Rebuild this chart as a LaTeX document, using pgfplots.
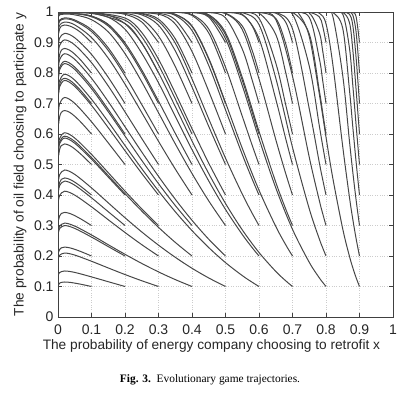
\documentclass[border=0pt]{standalone}
\usepackage{pgfplots}
\pgfplotsset{compat=1.18}
\usepackage{fontspec}
\setmainfont{Liberation Sans}
\newfontfamily\capfont{Liberation Serif}
\tikzset{tr/.style={black!72, line width=1pt, smooth, tension=0.55, mark=none}}
\begin{document}
\begin{tikzpicture}
\path[use as bounding box] (-58pt,-75pt) rectangle (350pt,317pt);
\begin{axis}[
  at={(0,0)}, anchor=south west,
  scale only axis, width=335pt, height=305pt,
  xmin=0, xmax=1, ymin=0, ymax=1,
  xtick={0,0.1,0.2,0.3,0.4,0.5,0.6,0.7,0.8,0.9,1},
  ytick={0,0.1,0.2,0.3,0.4,0.5,0.6,0.7,0.8,0.9,1},
  /pgf/number format/assume math mode=true,
  tick label style={font=\fontsize{14}{16}\selectfont, black!85},
  xticklabel style={yshift=-4pt},
  yticklabel style={xshift=-1pt},
  grid=major, major grid style={dotted, black!20, line width=0.6pt},
  tick align=inside, major tick length=4pt,
  tick style={black!75, line width=0.6pt},
  axis line style={black!75, line width=0.8pt},
  xlabel={The probability of energy company choosing to retrofit x},
  ylabel={The probability of oil field choosing to participate y},
  label style={font=\fontsize{13.7}{16}\selectfont, black!85},
  xlabel style={at={(axis description cs:0.458,-0.095)}, anchor=center},
  ylabel style={at={(axis description cs:-0.113,0.5)}, anchor=center},
  clip=true,
]
% column x0=0.1
\addplot[tr] coordinates {(0.1,0.1)(0.07,0.107)(0.05,0.1111)(0.035,0.1136)(0.02,0.1148)(0.01,0.1136)(0.005,0.1109)(0.002,0.1064)};
\addplot[tr] coordinates {(0.1,0.2)(0.07,0.2138)(0.05,0.2219)(0.035,0.2268)(0.02,0.2292)(0.01,0.2268)(0.005,0.2215)(0.002,0.2127)};
\addplot[tr] coordinates {(0.1,0.3)(0.07,0.3203)(0.05,0.3323)(0.035,0.3395)(0.02,0.3430)(0.01,0.3395)(0.005,0.3317)(0.002,0.3187)};
\addplot[tr] coordinates {(0.1,0.4)(0.07,0.4265)(0.05,0.4421)(0.035,0.4514)(0.02,0.4559)(0.01,0.4514)(0.005,0.4413)(0.002,0.4243)};
\addplot[tr] coordinates {(0.1,0.5)(0.07,0.5321)(0.05,0.5509)(0.035,0.5621)(0.02,0.5675)(0.01,0.5621)(0.005,0.55)(0.002,0.5295)};
\addplot[tr] coordinates {(0.1,0.6)(0.07,0.6368)(0.05,0.6582)(0.035,0.6709)(0.02,0.677)(0.01,0.6709)(0.005,0.6571)(0.002,0.6338)};
\addplot[tr] coordinates {(0.1,0.7)(0.07,0.7398)(0.05,0.7628)(0.035,0.7762)(0.02,0.7827)(0.01,0.7762)(0.005,0.7616)(0.002,0.7367)};
\addplot[tr] coordinates {(0.1,0.8)(0.07,0.8397)(0.05,0.8618)(0.035,0.8745)(0.02,0.8806)(0.01,0.8745)(0.005,0.8607)(0.002,0.8366)};
\addplot[tr] coordinates {(0.1,0.9)(0.07,0.9312)(0.05,0.9463)(0.035,0.954)(0.02,0.9575)(0.01,0.954)(0.005,0.9456)(0.002,0.929)};
% column x0=0.2
\addplot[tr] coordinates {(0.2,0.1)(0.15,0.1157)(0.1,0.1315)(0.05,0.1462)(0.02,0.1509)(0.005,0.1459)(0.002,0.1399)};
\addplot[tr] coordinates {(0.2,0.2)(0.15,0.2309)(0.1,0.262)(0.05,0.2905)(0.02,0.2998)(0.005,0.29)(0.002,0.2784)};
\addplot[tr] coordinates {(0.2,0.3)(0.15,0.3452)(0.1,0.3909)(0.05,0.4321)(0.02,0.4456)(0.005,0.4313)(0.002,0.4147)};
\addplot[tr] coordinates {(0.2,0.4)(0.15,0.4588)(0.1,0.5174)(0.05,0.5697)(0.02,0.5867)(0.005,0.5687)(0.002,0.5476)};
\addplot[tr] coordinates {(0.2,0.5)(0.15,0.5709)(0.1,0.6401)(0.05,0.7005)(0.02,0.7197)(0.005,0.6994)(0.002,0.6754)};
\addplot[tr] coordinates {(0.2,0.6)(0.15,0.6805)(0.1,0.7566)(0.05,0.8193)(0.02,0.8383)(0.005,0.8182)(0.002,0.7936)};
\addplot[tr] coordinates {(0.2,0.7)(0.15,0.7858)(0.1,0.861)(0.05,0.9155)(0.02,0.9301)(0.005,0.9146)(0.002,0.8941)};
\addplot[tr] coordinates {(0.2,0.8)(0.15,0.8824)(0.1,0.9423)(0.05,0.9739)(0.02,0.9807)(0.005,0.9735)(0.002,0.9631)};
\addplot[tr] coordinates {(0.2,0.9)(0.15,0.9595)(0.1,0.9867)(0.05,0.9954)(0.02,0.9965)(0.005,0.9953)(0.002,0.9926)};
% column x0=0.3
\addplot[tr] coordinates {(0.3,0.1)(0.25,0.1189)(0.2,0.1392)(0.15,0.1608)(0.1,0.1828)(0.05,0.203)(0.02,0.2098)(0.005,0.2026)(0.002,0.1944)};
\addplot[tr] coordinates {(0.3,0.2)(0.25,0.2372)(0.2,0.2771)(0.15,0.3189)(0.1,0.3613)(0.05,0.3997)(0.02,0.4125)(0.005,0.399)(0.002,0.3835)};
\addplot[tr] coordinates {(0.3,0.3)(0.25,0.3546)(0.2,0.4128)(0.15,0.4731)(0.1,0.5332)(0.05,0.5867)(0.02,0.6041)(0.005,0.5857)(0.002,0.5642)};
\addplot[tr] coordinates {(0.3,0.4)(0.25,0.4709)(0.2,0.5452)(0.15,0.6207)(0.1,0.6938)(0.05,0.7561)(0.02,0.7757)(0.005,0.755)(0.002,0.7303)};
\addplot[tr] coordinates {(0.3,0.5)(0.25,0.5853)(0.2,0.6725)(0.15,0.7575)(0.1,0.8339)(0.05,0.892)(0.02,0.9085)(0.005,0.891)(0.002,0.869)};
\addplot[tr] coordinates {(0.3,0.6)(0.25,0.6967)(0.2,0.7906)(0.15,0.8739)(0.1,0.9361)(0.05,0.9706)(0.02,0.9776)(0.005,0.9702)(0.002,0.9585)};
\addplot[tr] coordinates {(0.3,0.7)(0.25,0.8023)(0.2,0.8916)(0.15,0.9541)(0.1,0.9847)(0.05,0.9946)(0.02,0.996)(0.005,0.9945)(0.002,0.9914)};
\addplot[tr] coordinates {(0.3,0.8)(0.25,0.8985)(0.2,0.9617)(0.15,0.9895)(0.1,0.997)(0.05,0.999)(0.002,0.9985)};
\addplot[tr] coordinates {(0.3,0.9)(0.25,0.9673)(0.2,0.9924)(0.15,0.9984)(0.1,0.999)(0.002,0.999)};
% column x0=0.4
\addplot[tr] coordinates {(0.4,0.1)(0.35,0.1227)(0.3,0.1479)(0.25,0.1756)(0.2,0.2056)(0.15,0.237)(0.1,0.2691)(0.05,0.2981)(0.02,0.3079)(0.005,0.2976)(0.002,0.2859)};
\addplot[tr] coordinates {(0.4,0.2)(0.35,0.2447)(0.3,0.294)(0.25,0.3474)(0.2,0.4045)(0.15,0.4638)(0.1,0.5229)(0.05,0.5757)(0.02,0.5928)(0.005,0.5747)(0.002,0.5535)};
\addplot[tr] coordinates {(0.4,0.3)(0.35,0.3657)(0.3,0.4372)(0.25,0.5136)(0.2,0.5933)(0.15,0.6729)(0.1,0.7489)(0.05,0.8117)(0.02,0.8309)(0.005,0.8106)(0.002,0.786)};
\addplot[tr] coordinates {(0.4,0.4)(0.35,0.4853)(0.3,0.5761)(0.25,0.6704)(0.2,0.7635)(0.15,0.8486)(0.1,0.9163)(0.05,0.9578)(0.02,0.9672)(0.005,0.9572)(0.002,0.9426)};
\addplot[tr] coordinates {(0.4,0.5)(0.35,0.6022)(0.3,0.7078)(0.25,0.8102)(0.2,0.8985)(0.15,0.9585)(0.1,0.9863)(0.05,0.9953)(0.02,0.9964)(0.005,0.9952)(0.002,0.9924)};
\addplot[tr] coordinates {(0.4,0.6)(0.35,0.7153)(0.3,0.8265)(0.25,0.9186)(0.2,0.9732)(0.1,0.9983)(0.05,0.999)(0.002,0.999)};
\addplot[tr] coordinates {(0.4,0.7)(0.35,0.8211)(0.3,0.9212)(0.25,0.9775)(0.2,0.9953)(0.1,0.999)(0.002,0.999)};
\addplot[tr] coordinates {(0.4,0.8)(0.35,0.9123)(0.3,0.9766)(0.25,0.9956)(0.2,0.999)(0.1,0.999)(0.002,0.999)};
\addplot[tr] coordinates {(0.4,0.9)(0.35,0.9748)(0.3,0.9958)(0.2,0.999)(0.1,0.999)(0.002,0.999)};
% column x0=0.5
\addplot[tr] coordinates {(0.5,0.1)(0.45,0.128)(0.4,0.1598)(0.35,0.1958)(0.3,0.2356)(0.25,0.2789)(0.2,0.3255)(0.15,0.3743)(0.1,0.4233)(0.05,0.4676)(0.02,0.482)(0.005,0.4668)(0.002,0.4488)};
\addplot[tr] coordinates {(0.5,0.2)(0.45,0.2549)(0.4,0.3171)(0.35,0.3862)(0.3,0.4612)(0.25,0.5411)(0.2,0.6238)(0.15,0.7062)(0.1,0.7828)(0.05,0.8448)(0.02,0.8632)(0.005,0.8437)(0.002,0.82)};
\addplot[tr] coordinates {(0.5,0.3)(0.45,0.3806)(0.4,0.4705)(0.35,0.5678)(0.3,0.6698)(0.25,0.7712)(0.2,0.8636)(0.15,0.9348)(0.1,0.9749)(0.05,0.9907)(0.02,0.9931)(0.005,0.9906)(0.002,0.9859)};
\addplot[tr] coordinates {(0.5,0.4)(0.45,0.5043)(0.4,0.6175)(0.35,0.7345)(0.3,0.8452)(0.25,0.9328)(0.2,0.9802)(0.1,0.9988)(0.05,0.999)(0.002,0.999)};
\addplot[tr] coordinates {(0.5,0.5)(0.45,0.6248)(0.4,0.754)(0.35,0.8728)(0.3,0.9566)(0.25,0.9905)(0.2,0.9982)(0.1,0.999)(0.002,0.999)};
\addplot[tr] coordinates {(0.5,0.6)(0.45,0.74)(0.4,0.8706)(0.35,0.9607)(0.3,0.9926)(0.2,0.999)(0.1,0.999)(0.002,0.999)};
\addplot[tr] coordinates {(0.5,0.7)(0.45,0.8452)(0.4,0.9525)(0.35,0.9921)(0.3,0.999)(0.2,0.999)(0.002,0.999)};
\addplot[tr] coordinates {(0.5,0.8)(0.45,0.9312)(0.4,0.9888)(0.35,0.999)(0.3,0.999)(0.002,0.999)};
\addplot[tr] coordinates {(0.5,0.9)(0.45,0.9833)(0.4,0.9983)(0.35,0.999)(0.3,0.999)(0.002,0.999)};
% column x0=0.6
\addplot[tr] coordinates {(0.6,0.1)(0.58,0.1137)(0.55,0.1359)(0.5,0.1783)(0.45,0.2276)(0.4,0.2833)(0.35,0.3453)(0.3,0.4134)(0.25,0.4864)(0.2,0.5624)(0.15,0.64)(0.1,0.7139)(0.05,0.7766)(0.02,0.796)(0.005,0.7755)(0.002,0.7506)};
\addplot[tr] coordinates {(0.6,0.2)(0.58,0.2269)(0.55,0.2706)(0.5,0.3527)(0.45,0.446)(0.4,0.5488)(0.35,0.658)(0.3,0.7679)(0.25,0.865)(0.2,0.9435)(0.15,0.9829)(0.1,0.9951)(0.05,0.9984)(0.02,0.9989)(0.005,0.9983)(0.002,0.998)};
\addplot[tr] coordinates {(0.6,0.3)(0.58,0.3394)(0.55,0.4032)(0.5,0.521)(0.45,0.6495)(0.4,0.7805)(0.35,0.8981)(0.3,0.9695)(0.25,0.9939)(0.2,0.999)(0.1,0.999)(0.002,0.999)};
\addplot[tr] coordinates {(0.6,0.4)(0.58,0.4512)(0.55,0.5331)(0.5,0.6793)(0.45,0.8245)(0.4,0.9392)(0.35,0.9889)(0.3,0.9984)(0.2,0.999)(0.002,0.999)};
\addplot[tr] coordinates {(0.6,0.5)(0.58,0.5618)(0.55,0.6585)(0.5,0.8193)(0.45,0.9442)(0.4,0.9917)(0.35,0.999)(0.3,0.999)(0.002,0.999)};
\addplot[tr] coordinates {(0.6,0.6)(0.58,0.6704)(0.55,0.7761)(0.5,0.9255)(0.45,0.9899)(0.4,0.999)(0.3,0.999)(0.002,0.999)};
\addplot[tr] coordinates {(0.6,0.7)(0.58,0.7753)(0.55,0.8788)(0.5,0.9807)(0.45,0.9984)(0.4,0.999)(0.3,0.999)(0.002,0.999)};
\addplot[tr] coordinates {(0.6,0.8)(0.58,0.8729)(0.55,0.9544)(0.5,0.9962)(0.45,0.999)(0.4,0.999)(0.002,0.999)};
\addplot[tr] coordinates {(0.6,0.9)(0.58,0.9537)(0.55,0.9904)(0.5,0.999)(0.45,0.999)(0.002,0.999)};
% column x0=0.7
\addplot[tr] coordinates {(0.7,0.1)(0.68,0.1185)(0.65,0.1496)(0.6,0.2116)(0.55,0.2858)(0.5,0.3723)(0.45,0.4702)(0.4,0.5774)(0.35,0.6902)(0.3,0.8013)(0.25,0.8979)(0.2,0.9623)(0.1,0.997)(0.05,0.999)(0.002,0.9986)};
\addplot[tr] coordinates {(0.7,0.2)(0.68,0.2364)(0.65,0.2973)(0.6,0.4159)(0.55,0.5533)(0.5,0.703)(0.45,0.8481)(0.4,0.9543)(0.35,0.9924)(0.3,0.999)(0.2,0.999)(0.002,0.999)};
\addplot[tr] coordinates {(0.7,0.3)(0.68,0.3534)(0.65,0.442)(0.6,0.6088)(0.55,0.7858)(0.5,0.9325)(0.45,0.9912)(0.4,0.999)(0.3,0.999)(0.002,0.999)};
\addplot[tr] coordinates {(0.7,0.4)(0.68,0.4694)(0.65,0.5821)(0.6,0.7809)(0.55,0.9425)(0.5,0.995)(0.45,0.999)(0.4,0.999)(0.002,0.999)};
\addplot[tr] coordinates {(0.7,0.5)(0.68,0.5835)(0.65,0.7146)(0.6,0.9127)(0.55,0.9924)(0.5,0.999)(0.4,0.999)(0.002,0.999)};
\addplot[tr] coordinates {(0.7,0.6)(0.68,0.6946)(0.65,0.8332)(0.6,0.9795)(0.55,0.999)(0.5,0.999)(0.002,0.999)};
\addplot[tr] coordinates {(0.7,0.7)(0.68,0.8)(0.65,0.9264)(0.6,0.9963)(0.55,0.999)(0.5,0.999)(0.002,0.999)};
\addplot[tr] coordinates {(0.7,0.8)(0.68,0.8949)(0.65,0.9791)(0.6,0.999)(0.55,0.999)(0.002,0.999)};
\addplot[tr] coordinates {(0.7,0.9)(0.68,0.9663)(0.65,0.9963)(0.6,0.999)(0.55,0.999)(0.002,0.999)};
% column x0=0.8
\addplot[tr] coordinates {(0.8,0.1)(0.79,0.1138)(0.78,0.1285)(0.75,0.1794)(0.7,0.2874)(0.65,0.4238)(0.6,0.5851)(0.55,0.7592)(0.5,0.9127)(0.45,0.9865)(0.4,0.9985)(0.3,0.999)(0.002,0.999)};
\addplot[tr] coordinates {(0.8,0.2)(0.79,0.2271)(0.78,0.256)(0.75,0.3548)(0.7,0.5562)(0.65,0.7835)(0.6,0.9587)(0.55,0.9979)(0.5,0.999)(0.002,0.999)};
\addplot[tr] coordinates {(0.8,0.3)(0.79,0.3397)(0.78,0.3822)(0.75,0.5241)(0.7,0.7892)(0.65,0.9752)(0.6,0.999)(0.5,0.999)(0.002,0.999)};
\addplot[tr] coordinates {(0.8,0.4)(0.79,0.4517)(0.78,0.5063)(0.75,0.6829)(0.7,0.9448)(0.65,0.9988)(0.6,0.999)(0.002,0.999)};
\addplot[tr] coordinates {(0.8,0.5)(0.79,0.5621)(0.78,0.6272)(0.75,0.8229)(0.7,0.9928)(0.65,0.999)(0.6,0.999)(0.002,0.999)};
\addplot[tr] coordinates {(0.8,0.6)(0.79,0.671)(0.78,0.7426)(0.75,0.9282)(0.7,0.999)(0.65,0.999)(0.002,0.999)};
\addplot[tr] coordinates {(0.8,0.7)(0.79,0.776)(0.78,0.8477)(0.75,0.9825)(0.7,0.999)(0.65,0.999)(0.002,0.999)};
\addplot[tr] coordinates {(0.8,0.8)(0.79,0.8735)(0.78,0.9328)(0.75,0.9965)(0.7,0.999)(0.002,0.999)};
\addplot[tr] coordinates {(0.8,0.9)(0.79,0.954)(0.78,0.9839)(0.75,0.999)(0.7,0.999)(0.002,0.999)};
% column x0=0.9
\addplot[tr] coordinates {(0.9,0.1)(0.89,0.1286)(0.88,0.1616)(0.87,0.1992)(0.85,0.2886)(0.82,0.4573)(0.8,0.5899)(0.78,0.7313)(0.75,0.92)(0.72,0.9928)(0.7,0.999)(0.6,0.999)(0.002,0.999)};
\addplot[tr] coordinates {(0.9,0.2)(0.89,0.2562)(0.88,0.3204)(0.87,0.3926)(0.85,0.5583)(0.82,0.8311)(0.8,0.9614)(0.78,0.9962)(0.75,0.999)(0.7,0.999)(0.002,0.999)};
\addplot[tr] coordinates {(0.9,0.3)(0.89,0.3825)(0.88,0.4753)(0.87,0.5768)(0.85,0.7915)(0.82,0.9872)(0.8,0.999)(0.75,0.999)(0.002,0.999)};
\addplot[tr] coordinates {(0.9,0.4)(0.89,0.5067)(0.88,0.6234)(0.87,0.7448)(0.85,0.9462)(0.82,0.999)(0.8,0.999)(0.002,0.999)};
\addplot[tr] coordinates {(0.9,0.5)(0.89,0.6277)(0.88,0.7604)(0.87,0.8822)(0.85,0.9931)(0.82,0.999)(0.8,0.999)(0.002,0.999)};
\addplot[tr] coordinates {(0.9,0.6)(0.89,0.7431)(0.88,0.8765)(0.87,0.9655)(0.85,0.999)(0.82,0.999)(0.002,0.999)};
\addplot[tr] coordinates {(0.9,0.7)(0.89,0.8482)(0.88,0.9562)(0.87,0.9932)(0.85,0.999)(0.82,0.999)(0.002,0.999)};
\addplot[tr] coordinates {(0.9,0.8)(0.89,0.9331)(0.88,0.9901)(0.87,0.999)(0.85,0.999)(0.002,0.999)};
\addplot[tr] coordinates {(0.9,0.9)(0.89,0.984)(0.88,0.9985)(0.87,0.999)(0.85,0.999)(0.002,0.999)};
\end{axis}
\node[font=\capfont\fontsize{11.4}{13}\selectfont, anchor=center] at (152pt,-63pt) {\textbf{Fig. 3.}\ \ Evolutionary game trajectories.};
\end{tikzpicture}
\end{document}
